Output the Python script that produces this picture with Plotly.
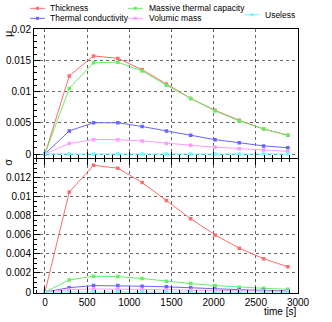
import plotly.graph_objects as go
from plotly.subplots import make_subplots

time_s = [0, 288, 576, 864, 1152, 1440, 1728, 2016, 2304, 2592, 2880]

mu_thickness = [0, 0.0125, 0.0157, 0.0153, 0.0135, 0.0112, 0.0089, 0.0070, 0.0054, 0.0040, 0.0030]
mu_capacity = [0, 0.0105, 0.0146, 0.0147, 0.0133, 0.0110, 0.0089, 0.0069, 0.0053, 0.0040, 0.0030]
mu_conductivity = [0, 0.0037, 0.0050, 0.0050, 0.0044, 0.0037, 0.0030, 0.0023, 0.0018, 0.0013, 0.0010]
mu_volumic = [0, 0.0017, 0.0023, 0.0023, 0.0021, 0.0017, 0.0014, 0.0011, 0.00085, 0.00064, 0.00042]
mu_useless = [0] * 11

sd_thickness = [0, 0.0105, 0.0133, 0.0130, 0.0115, 0.0096, 0.0077, 0.0060, 0.0046, 0.0035, 0.00265]
sd_capacity = [0, 0.00127, 0.00166, 0.00163, 0.00142, 0.00113, 0.00089, 0.00068, 0.00050, 0.00039, 0.00029]
sd_conductivity = [0, 0.00046, 0.00068, 0.00068, 0.00061, 0.00055, 0.00044, 0.00032, 0.00025, 0.00018, 0.00012]
sd_volumic = [0, 0.00025, 0.00032, 0.00032, 0.00030, 0.00025, 0.00020, 0.00016, 0.00013, 0.00010, 0.00008]
sd_useless = [0] * 11

names = ["Thickness", "Thermal conductivity", "Massive thermal capacity", "Volumic mass", "Useless"]
colors = ["#ff6b6b", "#6666ff", "#66ee66", "#ff99ff", "#66ffff"]
mu_series = [mu_thickness, mu_conductivity, mu_capacity, mu_volumic, mu_useless]
sd_series = [sd_thickness, sd_conductivity, sd_capacity, sd_volumic, sd_useless]

W, H = 332, 322
L, T = 34, 29
R = W - 298.5
B = H - 293.5
ph = H - T - B
pw = W - L - R

def px(x):
    return (x - L) / pw

def py(y):
    return 1 + (T - y) / ph

fig = make_subplots(rows=2, cols=1, shared_xaxes=False, vertical_spacing=0)

# draw cyan last so it sits on top like the original
order = [0, 2, 1, 3, 4]
for i in order:
    fig.add_trace(go.Scatter(x=time_s, y=mu_series[i], mode="lines+markers", name=names[i],
                             line=dict(color=colors[i], width=1),
                             marker=dict(symbol="square", size=3.5, color=colors[i])), row=1, col=1)
    fig.add_trace(go.Scatter(x=time_s, y=sd_series[i], mode="lines+markers", name=names[i],
                             line=dict(color=colors[i], width=1),
                             marker=dict(symbol="square", size=3.5, color=colors[i])), row=2, col=1)

axis_common = dict(showline=True, linecolor="black", linewidth=1, ticks="inside",
                   tickcolor="black", ticklen=6, showgrid=True, gridcolor="#666",
                   griddash="dot", gridwidth=1, zeroline=False, automargin=False,
                   tickfont=dict(family="Liberation Sans", size=10, color="black"))

top_dom = [1 + (T - 158) / ph, 1]
bot_dom = [0, 1 + (T - 159) / ph]

fig.update_xaxes(axis_common, range=[-130, 3000], dtick=500, tick0=0,
                 minor=dict(ticks="inside", ticklen=3, dtick=100, tickcolor="black"))
fig.update_xaxes(showticklabels=False, mirror=True, row=1, col=1)
fig.update_xaxes(mirror="ticks", row=2, col=1)
fig.update_yaxes(axis_common, mirror=True)
fig.update_yaxes(range=[-0.0006, 0.02], dtick=0.005, tick0=0, domain=top_dom,
                 minor=dict(ticks="inside", ticklen=3, dtick=0.001, tickcolor="black"),
                 row=1, col=1)
fig.update_yaxes(range=[-0.0001, 0.01399], dtick=0.002, tick0=0, domain=bot_dom,
                 minor=dict(ticks="inside", ticklen=3, dtick=0.0005, tickcolor="black"),
                 row=2, col=1)

# legend drawn by hand to mimic the ROOT box layout
legend_pos = [(30, 48, 8.3), (30, 48, 18.3), (128, 147, 8.3), (128, 147, 18.3), (245, 263, 14.7)]
lf = dict(family="Liberation Sans", size=8.5, color="black")
for i, (x0, xt, yy) in enumerate(legend_pos):
    fig.add_shape(type="line", xref="paper", yref="paper", x0=px(x0), x1=px(x0 + 15),
                  y0=py(yy), y1=py(yy), line=dict(color=colors[i], width=1))
    fig.add_shape(type="rect", xref="paper", yref="paper", x0=px(x0 + 6), x1=px(x0 + 9),
                  y0=py(yy - 1.5), y1=py(yy + 1.5), line=dict(width=0), fillcolor=colors[i])
    fig.add_annotation(x=px(xt), y=py(yy), xref="paper", yref="paper", text=names[i],
                       showarrow=False, xanchor="left", yanchor="middle", font=lf)

tf = dict(family="Liberation Sans", size=11, color="black")
fig.add_annotation(x=px(8), y=py(34), xref="paper", yref="paper", text="μ", textangle=-90,
                   showarrow=False, xanchor="center", yanchor="middle", font=tf)
fig.add_annotation(x=px(8), y=py(163), xref="paper", yref="paper", text="σ", textangle=-90,
                   showarrow=False, xanchor="center", yanchor="middle", font=tf)
fig.add_annotation(x=1, y=py(312), xref="paper", yref="paper", text="time [s]",
                   showarrow=False, xanchor="right", yanchor="middle",
                   font=dict(family="Liberation Sans", size=10, color="black"))

fig.update_layout(width=W, height=H, margin=dict(l=L, r=R, t=T, b=B),
                  plot_bgcolor="white", paper_bgcolor="white", showlegend=False)

# drop the default page margin so the figure sits in the window corner
fig.write_html("out.html", config={"displayModeBar": False},
               post_script="document.body.style.margin='0';document.body.style.overflow='hidden';")
